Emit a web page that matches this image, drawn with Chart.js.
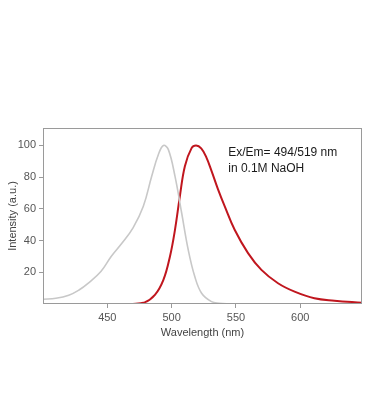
<!DOCTYPE html>
<html>
<head>
<meta charset="utf-8">
<script src="https://cdn.jsdelivr.net/npm/chart.js@4"></script>
<style>
  html, body { margin: 0; padding: 0; background: #fff; }
  #wrap { width: 370px; height: 419px; }
</style>
</head>
<body>
<div id="wrap"><canvas id="specChart"></canvas></div>
<script>
// excitation (gray) and emission (red) spectra
const exWavelength = [400, 410, 420, 428, 435, 445, 453, 461, 470, 478, 484.5, 489.7, 493.6, 497.4, 502.6, 507.8, 512.9, 518, 523.3, 531, 537, 546];
const exIntensity = [3, 3.6, 5.5, 8.8, 13, 20.5, 30, 38, 48, 61.6, 80.6, 94.3, 100, 97.5, 80.6, 57.4, 34.2, 17.3, 6.8, 1.5, 0.5, 0];

const emWavelength = [468, 479, 487, 493.6, 498.7, 502.6, 506.4, 510.3, 515.5, 519, 523, 527, 531, 536, 541.3, 549, 559.4, 569.8, 582.7, 595.6, 611, 626.6, 648];
const emIntensity = [0, 1, 5.7, 15.2, 30, 46.8, 67.9, 86.9, 98.3, 100, 98.2, 92.5, 84, 72.5, 61.6, 46.8, 32.1, 21.5, 13.1, 7.8, 3.6, 2.1, 0.8];

const xTicks = [450, 500, 550, 600];
const yTicks = [20, 40, 60, 80, 100];
const noteLines = ["Ex/Em= 494/519 nm", "in 0.1M NaOH"];

const fontFam = "'Liberation Sans', Arial, sans-serif";

function toPoints(xs, ys) {
    let pts = [];
    for (let i = 0; i < xs.length; i++) {
        pts.push({ x: xs[i], y: ys[i] });
    }
    return pts;
}

// frame round the plot area + annotation text
const framePlugin = {
    id: 'frame',
    afterDraw(chart) {
        const ctx = chart.ctx;
        const a = chart.chartArea;
        ctx.save();
        ctx.strokeStyle = '#9a9a9a';
        ctx.lineWidth = 1;
        ctx.strokeRect(a.left + 0.5, a.top + 0.5, a.right - a.left - 1, a.bottom - a.top - 1);
        const xs = chart.scales.x;
        const ys = chart.scales.y;
        ctx.fillStyle = '#1a1a1a';
        ctx.font = "12px " + fontFam;
        ctx.textBaseline = 'top';
        ctx.textAlign = 'left';
        let px = xs.getPixelForValue(544);
        let py = ys.getPixelForValue(99.5);
        noteLines.forEach((t, i) => ctx.fillText(t, px, py + i * 16));
        ctx.restore();
    }
};

const ctx = document.querySelector("#specChart");
new Chart(ctx, {
    type: 'line',
    data: {
        datasets: [
            {
                label: 'Excitation',
                data: toPoints(exWavelength, exIntensity),
                borderColor: '#c8c8c8',
                borderWidth: 1.6,
                pointRadius: 0,
                tension: 0.4,
                fill: false
            },
            {
                label: 'Emission',
                data: toPoints(emWavelength, emIntensity),
                borderColor: '#c0161e',
                borderWidth: 2,
                pointRadius: 0,
                tension: 0.4,
                fill: false
            }
        ]
    },
    options: {
        responsive: true,
        maintainAspectRatio: false,
        animation: false,
        layout: { padding: { top: 128, right: 8, bottom: 75, left: 6 } },
        plugins: {
            legend: { display: false },
            tooltip: { enabled: false }
        },
        scales: {
            x: {
                type: 'linear',
                min: 400,
                max: 648,
                afterBuildTicks: (s) => { s.ticks = xTicks.map(v => ({ value: v })); },
                afterFit: (s) => { s.height = 40; },
                ticks: { color: '#555', font: { size: 11, family: fontFam }, padding: 3 },
                grid: { drawOnChartArea: false, drawTicks: true, tickLength: 4, color: '#9a9a9a' },
                border: { display: false },
                title: { display: true, text: 'Wavelength (nm)', color: '#444', font: { size: 11, family: fontFam }, padding: { top: 1 } }
            },
            y: {
                min: 0,
                max: 111,
                afterBuildTicks: (s) => { s.ticks = yTicks.map(v => ({ value: v })); },
                afterFit: (s) => { s.width = 37; },
                ticks: { color: '#555', font: { size: 11, family: fontFam }, padding: 3 },
                grid: { drawOnChartArea: false, drawTicks: true, tickLength: 4, color: '#9a9a9a' },
                border: { display: false },
                title: { display: true, text: 'Intensity (a.u.)', color: '#444', font: { size: 11, family: fontFam }, padding: 0 }
            }
        }
    },
    plugins: [framePlugin]
});
</script>
</body>
</html>
